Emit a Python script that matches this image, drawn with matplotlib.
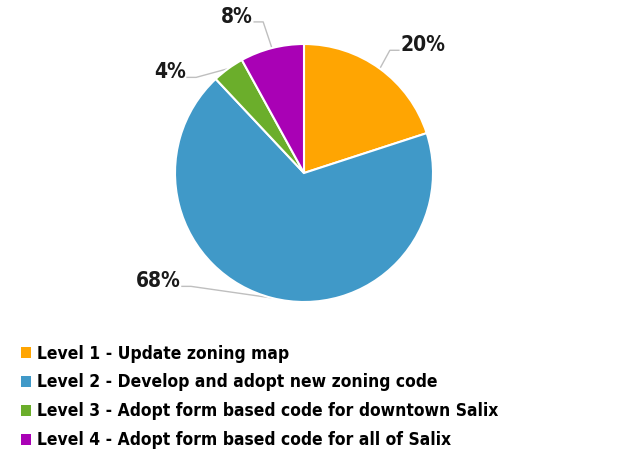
import numpy as np
import matplotlib
matplotlib.use("Agg")
import matplotlib.pyplot as plt
from matplotlib.patches import Patch

levels = [
    "Level 1 - Update zoning map",
    "Level 2 - Develop and adopt new zoning code",
    "Level 3 - Adopt form based code for downtown Salix",
    "Level 4 - Adopt form based code for all of Salix",
]
shares = [20, 68, 4, 8]
colors = ["#FFA502", "#4099C8", "#6BAE2B", "#A901B5"]

# label placement (data units, pie radius = 1) and which side the leader enters from
label_pos = [(0.92, 0.99), (-1.13, -0.84), (-1.04, 0.78), (-0.52, 1.21)]
label_side = [-1, 1, 1, 1]

W, H = 629, 455
fig = plt.figure(figsize=(W / 100, H / 100), dpi=100)
cx, cy, r = 304, 173, 129
ax = fig.add_axes([(cx - r) / W, (H - cy - r) / H, 2 * r / W, 2 * r / H])

wedges, _ = ax.pie(shares, colors=colors, startangle=90, counterclock=False,
                   radius=1, wedgeprops=dict(edgecolor="white", linewidth=1.5))
ax.set_xlim(-1, 1)
ax.set_ylim(-1, 1)
ax.set_aspect("equal")
ax.axis("off")

font = dict(family="DejaVu Sans", stretch="condensed", weight="bold")

total = sum(shares)
cum = 0
for val, (tx, ty), side in zip(shares, label_pos, label_side):
    mid = 90 - 360 * (cum + val / 2) / total
    cum += val
    ex, ey = np.cos(np.radians(mid)), np.sin(np.radians(mid))
    txt = ax.text(tx, ty, f"{val}%", ha="center", va="center",
                  fontsize=15, color="#1a1a1a", **font)
    # leader: from wedge edge to a short horizontal stub next to the label
    fig.canvas.draw()
    bb = txt.get_window_extent().transformed(ax.transData.inverted())
    sx = bb.x1 + 0.01 if side > 0 else bb.x0 - 0.01
    sy = bb.y0 + 0.25 * (bb.y1 - bb.y0)
    elbow = sx + side * 0.07
    ax.plot([sx, elbow, ex], [sy, sy, ey], color="#BFBFBF", lw=1.0,
            clip_on=False, zorder=0.5)

handles = [Patch(facecolor=c, edgecolor="none") for c in colors]
fig.legend(handles, levels, loc="upper left", bbox_to_anchor=(0.022, 0.258),
           frameon=False, handlelength=0.6, handleheight=0.6,
           handletextpad=0.35, labelspacing=0.63, borderaxespad=0,
           prop=dict(family="DejaVu Sans", stretch="condensed",
                     weight="bold", size=12.5))

fig.savefig("out.png", dpi=100, facecolor="white")
